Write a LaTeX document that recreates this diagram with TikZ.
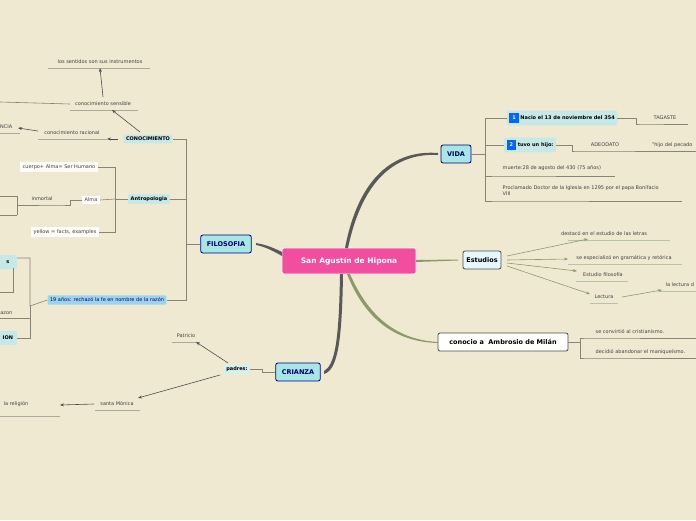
\documentclass[tikz,border=0pt]{standalone}
\usepackage{fontspec}
\setmainfont{DejaVu Sans}
\usetikzlibrary{arrows.meta}
\definecolor{bg}{HTML}{F0E9D2}
\definecolor{mainb}{HTML}{A8E6E6}
\definecolor{subb}{HTML}{C6E8E6}
\definecolor{ln}{HTML}{8A8272}
\definecolor{gr}{HTML}{8C9A6A}
\begin{document}
\begin{tikzpicture}[x=1pt,y=-1pt,
 main/.style={draw=blue!50!black,fill=mainb,rounded corners=2pt,line width=0.8pt,font=\fontsize{6.5}{7}\selectfont\bfseries,text=blue!40!black,minimum height=18,inner xsep=6},
 sub/.style={fill=subb,rounded corners=1pt,font=\fontsize{5}{6}\selectfont\bfseries,inner sep=2.5},
 wb/.style={fill=white!85!bg,font=\fontsize{5}{6}\selectfont,inner sep=2.5,text=black!75},
 tx/.style={font=\fontsize{5}{6}\selectfont,text=black!75,inner sep=1.5},
 ul/.style={draw=ln!70,line width=0.8pt},
 cn/.style={draw=ln,line width=0.6pt},
 ar/.style={draw=black!70,line width=0.6pt,-{Stealth[length=4pt,width=3pt]}},
 ga/.style={draw=gr,line width=0.6pt,-{Stealth[length=4pt,width=3pt]}}]
\useasboundingbox[fill=bg] (0,0) rectangle (696,520);
% central
\node[fill=magenta!60!pink,draw=white,rounded corners=2pt,line width=0.8pt,text=white,font=\fontsize{7.5}{8}\selectfont\bfseries,minimum width=134,minimum height=26] (c) at (349,261) {San Agustín de Hipona};
\node[main] (vida) at (456,154) {VIDA};
\node[draw=black!70,fill=white!90!cyan,rounded corners=2pt,line width=0.8pt,font=\fontsize{6.5}{7}\selectfont\bfseries,minimum height=18] (est) at (482,260) {Estudios};
\node[draw=black!70,fill=white,rounded corners=2pt,line width=0.8pt,font=\fontsize{6.5}{7}\selectfont\bfseries,minimum height=18,minimum width=130] (amb) at (503,342) {conocio a\ \ Ambrosio de Milán};
\node[main] (cri) at (298,372) {CRIANZA};
\node[main] (fil) at (226,244) {FILOSOFIA};
% branches
\fill[black!65] (345,248) .. controls (360,170) and (400,150) .. (438,153) -- (438,155) .. controls (402,153) and (364,172) .. (348,248) -- cycle;
\fill[black!65] (343,274) .. controls (342,340) and (338,370) .. (324,374) -- (324,371) .. controls (335,365) and (339,340) .. (340,274) -- cycle;
\fill[black!65] (282,252) .. controls (270,246) and (262,244) .. (256,243) -- (256,245) .. controls (262,246) and (270,249) .. (282,256) -- cycle;
\fill[gr] (416,260) -- (458,259.5) -- (458,260.5) -- (416,262) -- cycle;
\fill[gr] (350,274) .. controls (370,320) and (400,340) .. (438,342) -- (438,343) .. controls (398,342) and (366,322) .. (347,274) -- cycle;
% VIDA
\node[sub] (v1) at (562,118) {\colorbox{blue!60!cyan}{\textcolor{white}{1}}\ Nacio el 13 de noviembre del 354};
\node[tx] (tag) at (665,118) {TAGASTE};
\node[sub] (v2) at (530,145) {\colorbox{blue!60!cyan}{\textcolor{white}{2}}\ tuvo un hijo:};
\node[tx] (ade) at (605,145) {ADEODATO};
\node[tx,anchor=west] (hij) at (650,145) {"hijo del pecado};
\node[tx,anchor=west] (mue) at (501,168) {muerte:28 de agosto del 430 (75 años)};
\node[tx,anchor=west,align=left] (pro) at (501,191) {Proclamado Doctor de la Iglesia en 1295 por el papa Bonifacio\\VIII};
\draw[cn] (vida.east) -- (485,154) |- (v1.west);
\draw[cn] (485,154) |- (v2.west);
\draw[cn] (485,154) |- (498,176) -- (615,176);
\draw[cn] (485,154) |- (498,201) -- (682,201);
\draw[cn] (v1.east) -- (636,118) |- (640,124) -- (688,124);
\draw[cn] (v2.east) -- (572,145) |- (576,151) -- (696,151);
% Estudios
\node[tx] (e1) at (604,234) {destacó en el estudio de las letras};
\node[tx] (e2) at (624,258) {se especializó en gramática y retórica};
\node[tx] (e3) at (603,275) {Estudio filosofía};
\node[tx] (e4) at (604,297) {Lectura};
\node[tx,anchor=west] (e5) at (664,285) {la lectura d};
\draw[ul,draw=gr!60] (568,240) -- (670,240) (568,264) -- (682,264) (576,281) -- (628,281) (590,303) -- (618,303) (660,291) -- (696,291);
\draw[ga] (507,256) -- (588,239);
\draw[ga] (507,260) -- (568,259);
\draw[ga] (507,263) -- (577,271);
\draw[ga] (507,266) -- (590,294);
\draw[ga] (622,297) -- (662,290);
% Ambrosio
\node[tx,anchor=west] (a1) at (594,332) {se convirtió al cristianismo.};
\node[tx,anchor=west] (a2) at (594,352) {decidió abandonar el maniqueísmo.};
\draw[cn] (amb.east) -- (580,342) |- (586,338) -- (696,338);
\draw[cn] (580,342) |- (586,358) -- (696,358);
% CRIANZA
\node[sub,fill=subb!70] (pad) at (237,369) {padres:};
\node[tx] (pat) at (186,336) {Patricio};
\node[tx] (mon) at (117,404) {santa Mónica};
\node[tx,anchor=east] (rel) at (30,404) {la religión};
\draw[ul] (172,342) -- (200,342) (95,410) -- (140,410) (0,416) -- (60,416);
\draw[cn] (cri.west) -- (262,372) |- (pad.east);
\draw[ar] (228,363) -- (196,342);
\draw[ar] (220,375) -- (138,398);
\draw[ar] (94,404) -- (60,405);
% FILOSOFIA
\node[sub] (con) at (148,139) {CONOCIMIENTO};
\node[tx] (sen) at (103,104) {conocimiento sensible};
\node[tx] (ins) at (100,62) {los sentidos son sus instrumentos};
\node[tx] (rac) at (72,133) {conocimiento racional};
\node[tx,anchor=east] (cia) at (14,127) {NCIA};
\draw[ul] (70,110) -- (138,110) (48,68) -- (150,68) (38,139) -- (107,139) (0,133) -- (20,133);
\draw[ar] (140,132) -- (112,110);
\draw[ar] (103,97) -- (100,68);
\draw[ar] (118,139) -- (107,139);
\draw[ar] (38,131) -- (18,128);
\draw[cn] (70,104) -- (0,102);
\node[sub] (ant) at (149,199) {Antropologia};
\node[wb] (cue) at (59,167) {cuerpo+ Alma= Ser Humano};
\node[wb] (alm) at (91,200) {Alma};
\node[tx] (inm) at (42,199) {inmortal};
\node[wb] (yel) at (65,232) {yellow = facts, examples};
\draw[cn] (ant.west) -- (115,199) |- (cue.east);
\draw[cn] (115,199) |- (yel.east);
\draw[cn] (115,199) -- (alm.east);
\draw[cn] (alm.west) -- (70,200) |- (60,205) -- (18,205) (17,196) -- (17,215) (0,196) -- (17,196) (0,215) -- (17,215);
\node[sub,font=\fontsize{5}{6}\selectfont,text=blue!50!black,fill=cyan!25!subb] (rec) at (107,300) {19 años: rechazó la fe en nombre de la razón};
\node[sub,anchor=east,minimum height=14,minimum width=18,align=right] (s1) at (17,262) {s};
\node[sub,anchor=east,minimum height=14,minimum width=18] (s2) at (17,338) {ION};
\draw[cn] (fil.west) -- (186,244) |- (con.east);
\draw[cn] (186,244) |- (ant.east);
\draw[cn] (186,244) |- (rec.east);
\draw[cn] (rec.west) -- (30,306) -- (30,258) -- (17,258);
\draw[cn] (30,306) |- (s2.east);
\draw[cn] (30,318) -- (0,318);
\node[tx,anchor=east] at (14,313) {azon};
\draw[cn] (13,268) -- (13,292) -- (0,292);
\end{tikzpicture}
\end{document}
